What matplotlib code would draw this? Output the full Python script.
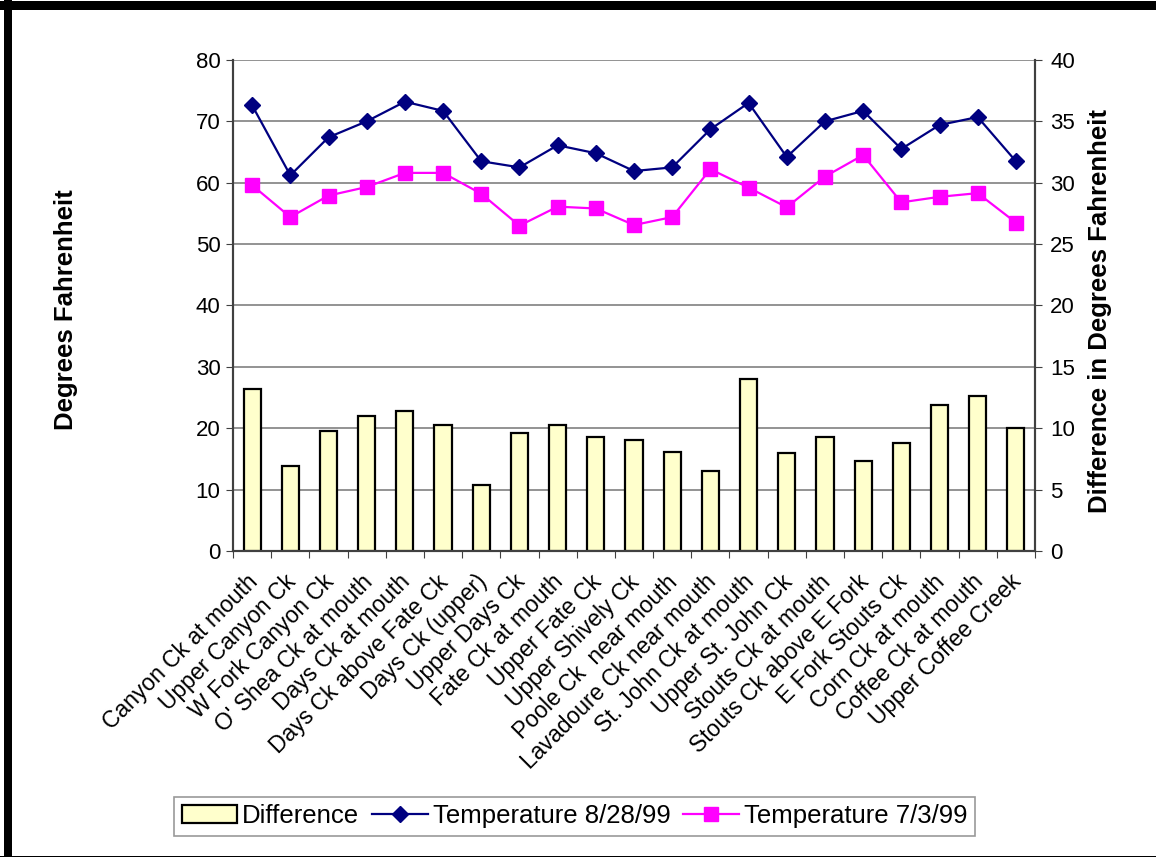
import matplotlib.pyplot as plt
import matplotlib.transforms as mtransforms
from matplotlib.patches import Patch, Rectangle
from matplotlib.lines import Line2D
import numpy as np

plt.rcParams['font.family'] = ['Liberation Sans', 'DejaVu Sans']

sites = ["Canyon Ck at mouth", "Upper Canyon Ck", "W Fork Canyon Ck", "O' Shea Ck at mouth",
         "Days Ck at mouth", "Days Ck above Fate Ck", "Days Ck (upper)", "Upper Days Ck",
         "Fate Ck at mouth", "Upper Fate Ck", "Upper Shively Ck", "Poole Ck  near mouth",
         "Lavadoure Ck near mouth", "St. John Ck at mouth", "Upper St. John Ck",
         "Stouts Ck at mouth", "Stouts Ck above E Fork", "E Fork Stouts Ck",
         "Corn Ck at mouth", "Coffee Ck at mouth", "Upper Coffee Creek"]
temp_aug = [72.6, 61.2, 67.4, 70.0, 73.2, 71.7, 63.5, 62.5, 66.1, 64.8, 61.9,
            62.5, 68.7, 73.0, 64.2, 70.0, 71.7, 65.5, 69.4, 70.7, 63.5]
temp_jul = [59.6, 54.4, 57.9, 59.3, 61.6, 61.6, 58.2, 53.0, 56.1, 55.8, 53.1,
            54.4, 62.2, 59.2, 56.0, 61.0, 64.5, 56.8, 57.7, 58.3, 53.5]
difference = [13.2, 6.9, 9.8, 11.0, 11.4, 10.3, 5.4, 9.6, 10.3, 9.3, 9.0,
              8.1, 6.5, 14.0, 8.0, 9.3, 7.3, 8.8, 11.9, 12.6, 10.0]

fig = plt.figure(figsize=(11.56, 8.59), dpi=100)
ax = fig.add_axes([0.2016, 0.3586, 0.6937, 0.5716])
ax2 = ax.twinx()
ax.set_zorder(2)
ax.patch.set_visible(False)

x = np.arange(len(sites))

# bars on the right axis
ax2.bar(x, difference, width=0.45, color='#FFFFCC', edgecolor='black', linewidth=1.6, zorder=3)
ax2.set_ylim(0, 40)
ax2.set_yticks(range(0, 41, 5))

# lines on the left axis
ax.plot(x, temp_aug, color='#000080', marker='D', markersize=8.5, linewidth=1.6, clip_on=False)
ax.plot(x, temp_jul, color='#FF00FF', marker='s', markersize=10, linewidth=1.6, clip_on=False)
ax.set_ylim(0, 80)
ax.set_yticks(range(0, 81, 10))
ax.set_xlim(-0.5, len(sites) - 0.5)

# gridlines drawn on the bar axis so they sit behind bars
for v in range(10, 81, 10):
    ax2.axhline(v / 2, color='#808080', linewidth=1.2, zorder=1)

ax.set_xticks(np.arange(-0.5, len(sites), 1.0))
ax.set_xticklabels([])
ax.set_xticks(x, minor=True)
ax.set_xticklabels(sites, minor=True, rotation=45, ha='right', va='top',
                   rotation_mode='anchor', fontsize=16.5)
ax.tick_params(axis='x', which='minor', length=0, pad=14)
ax.tick_params(axis='x', which='major', length=5, direction='out', color='#404040')
ax.tick_params(axis='y', labelsize=16, length=5, color='#404040', pad=4)
ax2.tick_params(axis='y', labelsize=16, length=5, color='#404040', pad=6)

shift = mtransforms.ScaledTranslation(-6 / 100, 0, fig.dpi_scale_trans)
for lbl in ax.get_xticklabels(minor=True):
    lbl.set_transform(lbl.get_transform() + shift)

for a in (ax, ax2):
    a.spines['top'].set_visible(False)
    a.spines['left'].set_color('#404040')
    a.spines['right'].set_color('#404040')
    a.spines['bottom'].set_color('#404040')
    a.spines['left'].set_linewidth(1.5)
    a.spines['right'].set_linewidth(1.5)
    a.spines['bottom'].set_linewidth(1.5)

fig.text(0.057, 0.639, 'Degrees Fahrenheit', rotation=90, ha='center', va='center',
         fontsize=18.5, fontweight='bold')
fig.text(0.9516, 0.638, 'Difference in Degrees Fahrenheit', rotation=90, ha='center', va='center',
         fontsize=18.5, fontweight='bold')

handles = [Patch(facecolor='#FFFFCC', edgecolor='black', linewidth=1.6),
           Line2D([], [], color='#000080', marker='D', markersize=8.5, linewidth=1.6),
           Line2D([], [], color='#FF00FF', marker='s', markersize=10, linewidth=1.6)]
labels = ['Difference', 'Temperature 8/28/99', 'Temperature 7/3/99']
leg = fig.legend(handles, labels, ncol=3, loc='center', bbox_to_anchor=(0.497, 0.0495),
                 fontsize=18.5, frameon=True, fancybox=False, handlelength=2.15,
                 handletextpad=0.2, columnspacing=0.5, borderpad=0.3, borderaxespad=0)
leg.get_frame().set_edgecolor('#808080')
leg.get_frame().set_linewidth(1.2)

# outer frame
fig.patches.append(Rectangle((0, 1 - 10 / 859), 1, 9 / 859, transform=fig.transFigure,
                             facecolor='black', edgecolor='none'))
fig.patches.append(Rectangle((4 / 1156, 0.003), 8 / 1156, 1, transform=fig.transFigure,
                             facecolor='black', edgecolor='none'))
fig.patches.append(Rectangle((0, 2 / 859), 1, 1.5 / 859, transform=fig.transFigure,
                             facecolor='black', edgecolor='none'))

fig.savefig('out.png', dpi=100)
